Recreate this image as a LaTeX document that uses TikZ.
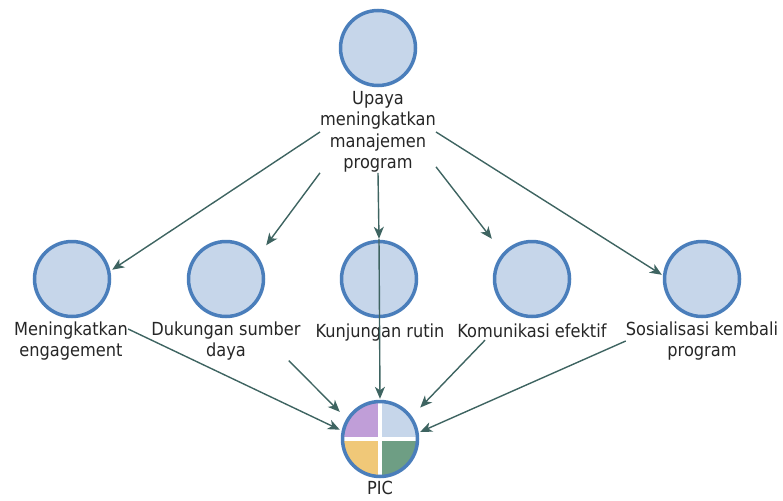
\documentclass[tikz,border=0pt]{standalone}
\usepackage{fontspec}
\setmainfont{DejaVu Sans Condensed}
\usetikzlibrary{arrows.meta}

\definecolor{hubfill}{HTML}{C6D6EA}
\definecolor{hubline}{HTML}{4A7EBB}
\definecolor{edgecol}{HTML}{3E6461}
\definecolor{quadA}{HTML}{C09ED8}
\definecolor{quadB}{HTML}{C6D6EA}
\definecolor{quadC}{HTML}{F0C878}
\definecolor{quadD}{HTML}{6E9E84}

\tikzset{
  hub/.style={rectangle, minimum size=80pt, inner sep=0pt,
    path picture={
      \draw[line width=3.5pt, draw=hubline, fill=hubfill]
        (path picture bounding box.center) circle (37.5pt);
    }},
  pichub/.style={rectangle, minimum size=80pt, inner sep=0pt,
    path picture={
      \begin{scope}
        \clip (path picture bounding box.center) circle (37.5pt);
        \fill[quadA] (path picture bounding box.center) rectangle ++(-40pt,40pt);
        \fill[quadB] (path picture bounding box.center) rectangle ++(40pt,40pt);
        \fill[quadC] (path picture bounding box.center) rectangle ++(-40pt,-40pt);
        \fill[quadD] (path picture bounding box.center) rectangle ++(40pt,-40pt);
        \fill[white] ([xshift=-2pt,yshift=-40pt]path picture bounding box.center) rectangle ++(4pt,80pt);
        \fill[white] ([xshift=-40pt,yshift=-2pt]path picture bounding box.center) rectangle ++(80pt,4pt);
      \end{scope}
      \draw[line width=3.5pt, draw=hubline]
        (path picture bounding box.center) circle (37.5pt);
    }},
  lbl/.style={align=center, inner sep=0pt, text=black!85,
    font=\fontsize{18}{21.5}\selectfont},
  edge/.style={draw=edgecol, line width=1.4pt,
    -{Stealth[length=12pt, width=10pt, inset=3.5pt]}},
}

\begin{document}
\begin{tikzpicture}[x=1pt, y=-1pt]
  \useasboundingbox (0,0) rectangle (783,500);

  % top goal
  \node[hub] (top) at (378,48) {};
  \node[lbl] (ttxt) at (378,132) {Upaya\\meningkatkan\\manajemen\\program};

  % middle row
  \node[hub] (c1) at (72,279) {};
  \node[hub] (c2) at (226,279) {};
  \node[hub] (c3) at (379,279) {};
  \node[hub] (c4) at (532,279) {};
  \node[hub] (c5) at (702,279) {};

  \node[lbl] (l1) at (71,341) {Meningkatkan\\engagement};
  \node[lbl] (l2) at (226,341) {Dukungan sumber\\daya};
  \node[lbl] (l3) at (380,333) {Kunjungan rutin};
  \node[lbl] (l4) at (532,331) {Komunikasi efektif};
  \node[lbl] (l5) at (702,341) {Sosialisasi kembali\\program};

  % PIC
  \node[pichub] (pic) at (380,439) {};
  \node[lbl] (ptxt) at (380,488) {PIC};

  % goal to actions
  \draw[edge] (ttxt.west) -- (c1.13);
  \draw[edge] (ttxt.south west) -- (c2.40);
  \draw[edge] (ttxt.south) -- (c3.north);
  \draw[edge] ([yshift=6pt]ttxt.south east) -- (c4.135);
  \draw[edge] (ttxt.east) -- (c5.174);

  % actions to PIC
  \draw[edge] ([yshift=12pt]l1.east) -- (pic.167);
  \draw[edge] ([xshift=-12pt]l2.south east) -- (pic.146);
  \draw[edge] (c3.north) -- (pic.north);
  \draw[edge] ([xshift=-47pt,yshift=-2pt]l4.south) -- (pic.38);
  \draw[edge] (l5.west) -- (pic.10);
\end{tikzpicture}
\end{document}
